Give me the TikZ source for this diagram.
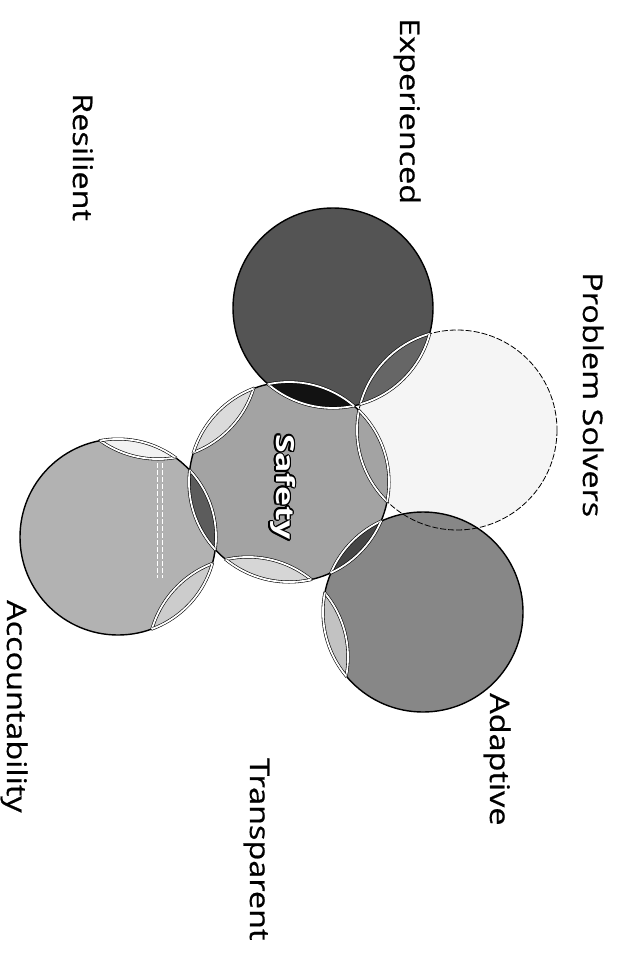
\documentclass[tikz,border=0pt]{standalone}
\usepackage{fontspec}
\setmainfont{Open Sans}
\newfontfamily\lblfont{Open Sans}[FakeBold=0.6]
\usepackage{graphicx}
\definecolor{cE}{gray}{0.33}
\definecolor{cES}{gray}{0.07}
\definecolor{cEP}{gray}{0.40}
\definecolor{cP}{gray}{0.96}
\definecolor{cA}{gray}{0.53}
\definecolor{cAS}{gray}{0.28}
\definecolor{cAT}{gray}{0.76}
\definecolor{cS}{gray}{0.64}
\definecolor{cSC}{gray}{0.36}
\definecolor{cSR}{gray}{0.86}
\definecolor{cST}{gray}{0.84}
\definecolor{cC}{gray}{0.70}
\definecolor{cCR}{gray}{0.95}
\definecolor{cCT}{gray}{0.80}
\begin{document}
\begin{tikzpicture}[x=1pt,y=-1pt,
  lbl/.style={rotate=-90, anchor=base west, inner sep=0pt, font=\lblfont\fontsize{27}{30}\selectfont},
  safe/.style={rotate=-90, anchor=base west, inner sep=0pt, font=\bfseries\fontsize{25}{28}\selectfont},
  outer/.style={draw=black, line width=1.4pt},
  inner/.style={draw=black, line width=0.6pt, double=white, double distance=1.8pt},
]
\useasboundingbox (0,0) rectangle (618,963);
\coordinate (S) at (289,482);
\coordinate (E) at (333,308);
\coordinate (P) at (457,430);
\coordinate (A) at (423,612);
\coordinate (T) at (248,657);
\coordinate (C) at (118,537);
\coordinate (R) at (158,359);
\def\rad{100}

% base fills
\fill[cE] (E) circle (\rad);
\fill[cP] (P) circle (\rad);
\fill[cA] (A) circle (\rad);
\fill[cC] (C) circle (98);
\fill[cS] (S) circle (\rad);

% lenses
\begin{scope}\clip (E) circle (\rad); \fill[cES] (S) circle (\rad); \end{scope}
\begin{scope}\clip (E) circle (\rad); \fill[cEP] (P) circle (\rad); \end{scope}
\begin{scope}\clip (A) circle (\rad); \fill[cAS] (S) circle (\rad); \end{scope}
\begin{scope}\clip (A) circle (\rad); \fill[cAT] (T) circle (\rad); \end{scope}
\begin{scope}\clip (S) circle (\rad); \fill[cSC] (C) circle (98); \end{scope}
\begin{scope}\clip (S) circle (\rad); \fill[cSR] (R) circle (\rad); \end{scope}
\begin{scope}\clip (S) circle (\rad); \fill[cST] (T) circle (\rad); \end{scope}
\begin{scope}\clip (C) circle (98); \fill[cCR] (R) circle (\rad); \end{scope}
\begin{scope}\clip (C) circle (98); \fill[cCT] (T) circle (\rad); \end{scope}

% stray dashed marks inside Accountability
\draw[white, line width=0.7pt, dash pattern=on 5pt off 2pt] (157,463) -- (157,578);
\draw[white, line width=0.7pt, dash pattern=on 5pt off 2pt] (162,463) -- (162,578);

% outer outlines
\draw[outer] (E) circle (\rad);
\draw[outer] (A) circle (\rad);
\draw[outer] (C) circle (98);
\draw[outer] (S) circle (\rad);
\draw[black, line width=0.8pt, dash pattern=on 6pt off 2pt] (P) circle (\rad);

% inner arcs (white bands)
\begin{scope}\clip (S) circle (\rad);
  \draw[inner] (E) circle (\rad); \draw[inner] (P) circle (\rad);
  \draw[inner] (A) circle (\rad); \draw[inner] (T) circle (\rad);
  \draw[inner] (C) circle (98);   \draw[inner] (R) circle (\rad);
\end{scope}
\begin{scope}\clip (E) circle (\rad); \draw[inner] (S) circle (\rad); \draw[inner] (P) circle (\rad); \end{scope}
\begin{scope}\clip (P) circle (\rad); \draw[inner] (S) circle (\rad); \draw[inner] (E) circle (\rad); \end{scope}
\begin{scope}\clip (A) circle (\rad); \draw[inner] (S) circle (\rad); \draw[inner] (T) circle (\rad); \end{scope}
\begin{scope}\clip (C) circle (98); \draw[inner] (S) circle (\rad); \draw[inner] (T) circle (\rad); \draw[inner] (R) circle (\rad); \end{scope}
\begin{scope}\clip (T) circle (\rad); \draw[inner] (S) circle (\rad); \draw[inner] (A) circle (\rad); \draw[inner] (C) circle (98); \end{scope}
\begin{scope}\clip (R) circle (\rad); \draw[inner] (S) circle (\rad); \draw[inner] (C) circle (98); \end{scope}

% Safety label with dark outline
\foreach \a in {0,30,...,330}
  \node[safe, text=black, shift={(\a:1.6)}] at (276,434) {\scalebox{1.35}[1]{Safety}};
\node[safe, text=white] (safety) at (276,434) {\scalebox{1.35}[1]{Safety}};

% labels
\node[lbl] (lexp) at (400,18) {\scalebox{1.2}[1]{Experienced}};
\node[lbl] (lres) at (73,93) {\scalebox{1.2}[1]{Resilient}};
\node[lbl] (lps) at (583,272) {\scalebox{1.2}[1]{Problem Solvers}};
\node[lbl] (lada) at (490,693) {\scalebox{1.2}[1]{Adaptive}};
\node[lbl] (ltra) at (250,758) {\scalebox{1.2}[1]{Transparent}};
\node[lbl] (lacc) at (7,600) {\scalebox{1.2}[1]{Accountability}};
\end{tikzpicture}
\end{document}
